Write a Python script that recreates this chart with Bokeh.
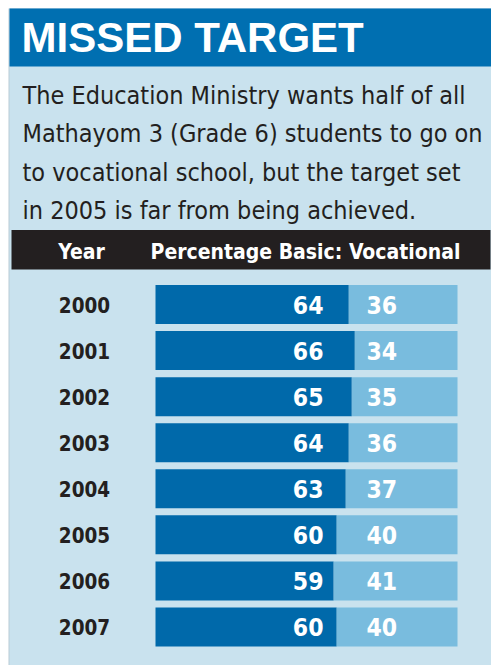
from bokeh.plotting import figure
from bokeh.models import Range1d, BoxAnnotation, ColumnDataSource
from bokeh.core.properties import value
from bokeh.embed import file_html
from bokeh.resources import INLINE

# ---- data ----
years = ["2000", "2001", "2002", "2003", "2004", "2005", "2006", "2007"]
basic = [64, 66, 65, 64, 63, 60, 59, 60]
vocational = [36, 34, 35, 36, 37, 40, 41, 40]

title = "MISSED TARGET"
subtitle_lines = [
    "The Education Ministry wants half of all",
    "Mathayom 3 (Grade 6) students to go on",
    "to vocational school, but the target set",
    "in 2005 is far from being achieved.",
]
header_year = "Year"
header_pct = "Percentage Basic: Vocational"

# ---- layout constants (pixels) ----
W, H = 491, 665
BAR_L, BAR_R = 155, 457          # pixel extent of 0..100 %
ROW0, PITCH = 304, 46.07         # centre of first row, row pitch
PX_PER_UNIT = (BAR_R - BAR_L) / 100.0

def px2x(px):
    return (px - BAR_L) / PX_PER_UNIT

def px2y(py):
    return (py - ROW0) / PITCH

NARROW = "DejaVu Sans Condensed"
DARK = "#0069AA"
LIGHT = "#79BCDE"
BG = "#C9E2EE"
TITLE_BG = "#006FB1"
INK = "#231F20"

p = figure(width=W, height=H, output_backend="svg", toolbar_location=None,
           x_range=Range1d(px2x(0), px2x(W)), y_range=Range1d(px2y(H), px2y(0)),
           min_border=0, outline_line_color=None)
p.axis.visible = False
p.grid.visible = False
p.background_fill_color = "white"
p.border_fill_color = "white"

def box(x0, x1, y0, y1, color):
    p.add_layout(BoxAnnotation(left=px2x(x0), right=px2x(x1), top=px2y(y0), bottom=px2y(y1),
                               fill_color=color, fill_alpha=1, line_color=None, level="underlay"))

box(8, W, 8, H, "#B9CCD6")
box(9, W, 8, H, BG)
box(9, W, 8, 66, TITLE_BG)
box(11, 490, 229.5, 269, INK)

def txt(xp, yp, s, font, size, color, align="left", style="normal"):
    p.text(x=[px2x(xp)], y=[px2y(yp)], text=[s], text_font=value(font), text_font_style=style,
           text_font_size=size, text_color=color, text_align=align, text_baseline="middle")

txt(21, 37, title, "Liberation Sans", "42px", "white", style="bold")
for i, line in enumerate(subtitle_lines):
    txt(22, 95 + 38.4 * i, line, NARROW, "25px", INK)
txt(81, 251, header_year, NARROW, "21px", "white", align="center", style="bold")
txt(305, 251, header_pct, NARROW, "21px", "white", align="center", style="bold")

idx = list(range(len(years)))
src = ColumnDataSource(dict(
    y=idx, year=years, basic=basic, voc=vocational,
    total=[b + v for b, v in zip(basic, vocational)],
    zero=[0] * len(years),
    btxt=[str(b) for b in basic], vtxt=[str(v) for v in vocational],
))
bar_h = 39 / PITCH
p.hbar(y="y", left="zero", right="basic", height=bar_h, source=src, fill_color=DARK, line_color=None)
p.hbar(y="y", left="basic", right="total", height=bar_h, source=src, fill_color=LIGHT, line_color=None)

p.text(x=px2x(84), y="y", text="year", source=src, text_font=value(NARROW), text_font_style="bold",
       text_font_size="20.5px", text_color=INK, text_align="center", text_baseline="middle")
p.text(x=px2x(323), y="y", text="btxt", source=src, text_font=value(NARROW), text_font_style="bold",
       text_font_size="24.5px", text_color="white", text_align="right", text_baseline="middle")
p.text(x=px2x(366), y="y", text="vtxt", source=src, text_font=value(NARROW), text_font_style="bold",
       text_font_size="24.5px", text_color="white", text_align="left", text_baseline="middle")

open("out.html", "w").write(file_html(p, INLINE))
